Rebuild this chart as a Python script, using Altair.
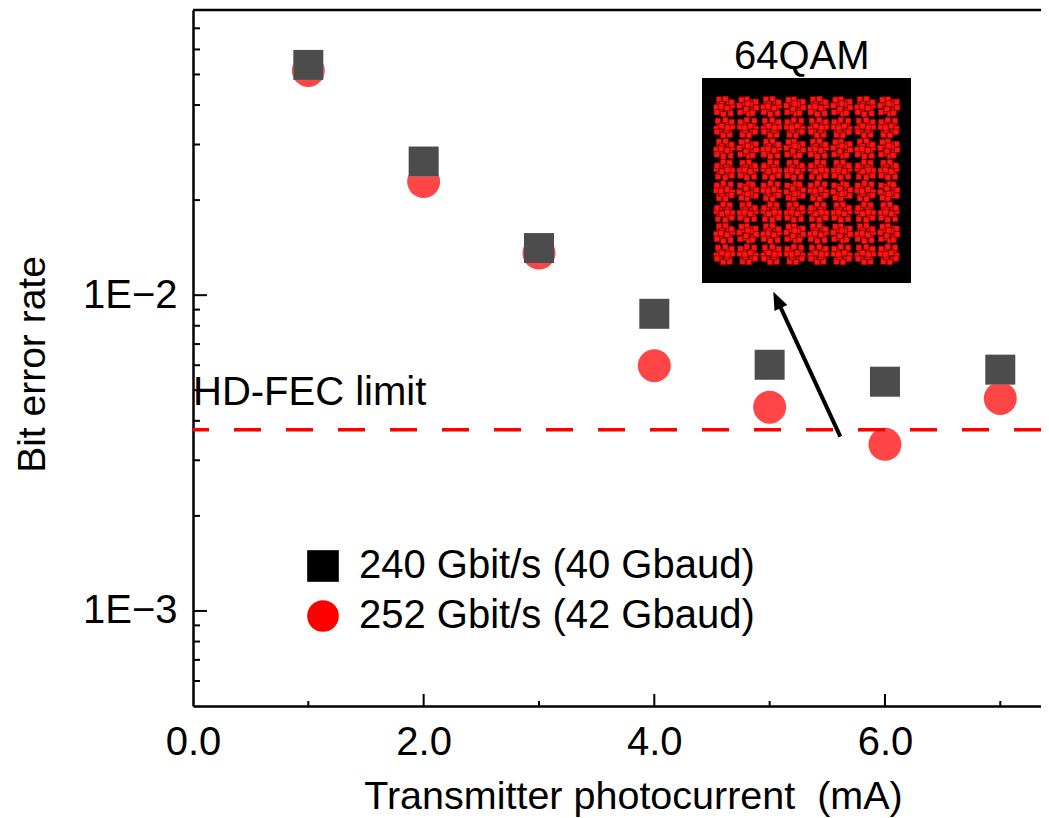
import altair as alt
import pandas as pd

FONT = "Liberation Sans"

# ---------------- data ----------------
current_mA = [1, 2, 3, 4, 5, 6, 7]
ber_240 = [0.0536, 0.0265, 0.0141, 0.00873, 0.00602, 0.00532, 0.00581]
ber_252 = [0.0515, 0.0229, 0.0136, 0.00598, 0.00442, 0.00337, 0.00471]
series_names = ["240 Gbit/s (40 Gbaud)", "252 Gbit/s (42 Gbaud)"]
series_colors = ["#000000", "#ff0000"]
series_shapes = ["square", "circle"]

hd_fec_limit = [0.00375]
hd_fec_text = ["HD-FEC limit"]
hd_fec_text_x = [0.0]
hd_fec_text_y = [0.0045]

x_domain = [0.0, 7.353]
y_domain = [0.0005, 0.08]
x_label_values = [0, 2, 4, 6]
x_major_ticks = [2, 4, 6]
x_minor_ticks = [1, 3, 5, 7]
y_label_values = [0.001, 0.01]
y_label_texts = ["1E\u22123", "1E\u22122"]
y_minor_ticks = [0.0006, 0.0007, 0.0008, 0.0009,
                 0.002, 0.003, 0.004, 0.005, 0.006, 0.007, 0.008, 0.009,
                 0.02, 0.03, 0.04, 0.05, 0.06, 0.07]

arrow_x = [5.613]
arrow_y = [0.003565]
arrow_x2 = [5.061]
arrow_y2 = [0.00973]
arrow_tip_x = [5.032]
arrow_tip_y = [0.01025]

inset_title = ["64QAM"]
inset_title_x = [-0.4]
inset_title_y = [10.52]
qam_levels = [-7, -5, -3, -1, 1, 3, 5, 7]
cluster_dx = [0.0, 0.43, -0.38, 0.34, -0.45, 0.68, -0.1, 0.08, -0.68, 0.45, -0.54, 0.64, 0.2, -0.22, 0.27, -0.62]
cluster_dy = [0.0, 0.3, 0.45, -0.45, -0.27, -0.07, 0.72, -0.72, 0.1, 0.68, -0.65, -0.54, 0.23, -0.15, 0.0, 0.4]
inset_x_domain = [-8.9, 8.9]
inset_y_domain = [-9.7, 9.7]

x_title = "Transmitter photocurrent\u00a0 (mA)"
y_title = "Bit error rate"

# ---------------- layout ----------------
W, H = 848, 696

xs = alt.Scale(domain=x_domain, nice=False, zero=False)
ys = alt.Scale(type="log", domain=y_domain, nice=False)

x_axis = alt.Axis(
    values=x_label_values, format=".1f", ticks=False, tickSize=0,
    labelPadding=48, labelBaseline="alphabetic", labelFontSize=40,
    labelFont=FONT, labelColor="black", labelFlush=False, labelOverlap=False,
    domainColor="black", domainWidth=2.5, grid=False,
    titleFont=FONT, titleFontSize=39.5, titleFontWeight="normal",
    titleColor="black", titleX=440, titleY=102, titleBaseline="alphabetic",
    titleAlign="center",
)
y_axis = alt.Axis(
    values=y_label_values,
    labelExpr=f"datum.value < 0.005 ? '{y_label_texts[0]}' : '{y_label_texts[1]}'",
    ticks=False, tickSize=0, labelPadding=16, labelFontSize=40,
    labelFont=FONT, labelColor="black", labelOverlap=False, labelFlush=False,
    domainColor="black", domainWidth=2.5, grid=False,
    titleFont=FONT, titleFontSize=39, titleFontWeight="normal",
    titleColor="black", titleAngle=270, titleX=-149, titleY=354,
    titleBaseline="alphabetic", titleAlign="center",
)


def X(field):
    return alt.X(field, scale=xs, axis=x_axis, title=x_title)


def Y(field):
    return alt.Y(field, scale=ys, axis=y_axis, title=y_title)


legend = alt.Legend(
    title=None, orient="none", legendX=110, legendY=536,
    symbolSize=1000, labelFontSize=40, labelFont=FONT, labelColor="black",
    symbolOpacity=1, symbolStrokeWidth=0, padding=0, rowPadding=10,
    labelOffset=16, symbolOffset=0, labelLimit=800,
)

df240 = pd.DataFrame({"current": current_mA, "ber": ber_240, "series": series_names[0]})
df252 = pd.DataFrame({"current": current_mA, "ber": ber_252, "series": series_names[1]})

color = alt.Color("series:N", scale=alt.Scale(domain=series_names, range=series_colors), legend=legend)
shape = alt.Shape("series:N", scale=alt.Scale(domain=series_names, range=series_shapes), legend=legend)

circles = alt.Chart(df252).mark_point(filled=True, size=1089, opacity=0.73).encode(
    x=X("current:Q"), y=Y("ber:Q"), color=color, shape=shape)
white_sq = alt.Chart(df240).mark_point(filled=True, shape="square", size=900, color="white", opacity=1).encode(
    x=X("current:Q"), y=Y("ber:Q"))
squares = alt.Chart(df240).mark_point(filled=True, size=900, opacity=0.7).encode(
    x=X("current:Q"), y=Y("ber:Q"), color=color, shape=shape)

y_major = alt.Chart(pd.DataFrame({"v": y_label_values})).mark_rule(color="black", strokeWidth=2).encode(
    y=Y("v:Q"), x=alt.value(0), x2=alt.value(14))
y_minor = alt.Chart(pd.DataFrame({"v": y_minor_ticks})).mark_rule(color="black", strokeWidth=2).encode(
    y=Y("v:Q"), x=alt.value(0), x2=alt.value(7))
x_major = alt.Chart(pd.DataFrame({"v": x_major_ticks})).mark_rule(color="black", strokeWidth=2).encode(
    x=X("v:Q"), y=alt.value(H), y2=alt.value(H - 12))
x_minor = alt.Chart(pd.DataFrame({"v": x_minor_ticks})).mark_rule(color="black", strokeWidth=2).encode(
    x=X("v:Q"), y=alt.value(H), y2=alt.value(H - 5))
top_border = alt.Chart(pd.DataFrame({"v": [0]})).mark_rule(color="black", strokeWidth=2.5).encode(
    x=alt.value(0), x2=alt.value(W), y=alt.value(0))

hd_line = alt.Chart(pd.DataFrame({"v": hd_fec_limit})).mark_rule(
    color="#ff0000", strokeWidth=3.5, strokeDash=[27, 25]).encode(y=Y("v:Q"))
hd_label = alt.Chart(pd.DataFrame({"x": hd_fec_text_x, "y": hd_fec_text_y, "t": hd_fec_text})).mark_text(
    align="left", baseline="alphabetic", fontSize=40, font=FONT, color="black").encode(
    x=X("x:Q"), y=Y("y:Q"), text="t:N")

arrow_line = alt.Chart(pd.DataFrame({"x": arrow_x, "y": arrow_y, "x2": arrow_x2, "y2": arrow_y2})).mark_rule(
    color="black", strokeWidth=4).encode(x=X("x:Q"), y=Y("y:Q"), x2="x2:Q", y2="y2:Q")
arrow_head = alt.Chart(pd.DataFrame({"x": arrow_tip_x, "y": arrow_tip_y})).mark_point(
    shape="M0,0L-0.55,1.4L0.55,1.4Z", size=661, angle=335, filled=True, color="black", opacity=1).encode(
    x=X("x:Q"), y=Y("y:Q"))

main = alt.layer(circles, white_sq, squares, y_major, y_minor, x_major, x_minor, top_border,
                 hd_line, hd_label, arrow_line, arrow_head)

# ---------------- inset constellation ----------------
ixs = alt.Scale(domain=inset_x_domain, range=[509, 718], nice=False, zero=False)
iys = alt.Scale(domain=inset_y_domain, range=[273, 68], nice=False, zero=False)

rect_df = pd.DataFrame({"x": [inset_x_domain[0]], "x2": [inset_x_domain[1]],
                        "y": [inset_y_domain[0]], "y2": [inset_y_domain[1]]})
rows = []
for i, I in enumerate(qam_levels):
    for j, Q in enumerate(qam_levels):
        sx = 1 if (i + j) % 2 == 0 else -1
        sy = 1 if (3 * i + j) % 3 != 0 else -1
        swap = (i * j) % 2 == 1
        for dx, dy in zip(cluster_dx, cluster_dy):
            a, b = (dy, dx) if swap else (dx, dy)
            rows.append({"i": I + sx * a, "q": Q + sy * b})
const_df = pd.DataFrame(rows)

inset_rect = alt.Chart(rect_df).mark_rect(color="black").encode(
    x=alt.X("x:Q", scale=ixs, axis=None), x2="x2:Q",
    y=alt.Y("y:Q", scale=iys, axis=None), y2="y2:Q")
inset_pts = alt.Chart(const_df).mark_point(
    shape="square", filled=True, size=32, fill="#ff1414", stroke="#700000", strokeWidth=0.7, opacity=1).encode(
    x=alt.X("i:Q", scale=ixs, axis=None), y=alt.Y("q:Q", scale=iys, axis=None))
inset_text = alt.Chart(pd.DataFrame({"x": inset_title_x, "y": inset_title_y, "t": inset_title})).mark_text(
    align="center", baseline="alphabetic", fontSize=40, font=FONT, color="black").encode(
    x=alt.X("x:Q", scale=ixs, axis=None), y=alt.Y("y:Q", scale=iys, axis=None), text="t:N")

inset = alt.layer(inset_rect, inset_pts, inset_text)

chart = alt.layer(main, inset).resolve_scale(x="independent", y="independent").properties(
    width=W, height=H,
    autosize=alt.AutoSizeParams(type="none"),
    padding={"left": 185, "top": 2, "right": 0, "bottom": 112},
    background="white",
).configure_view(strokeWidth=0)

chart.save("out.html", embed_options={"renderer": "svg", "actions": False})
